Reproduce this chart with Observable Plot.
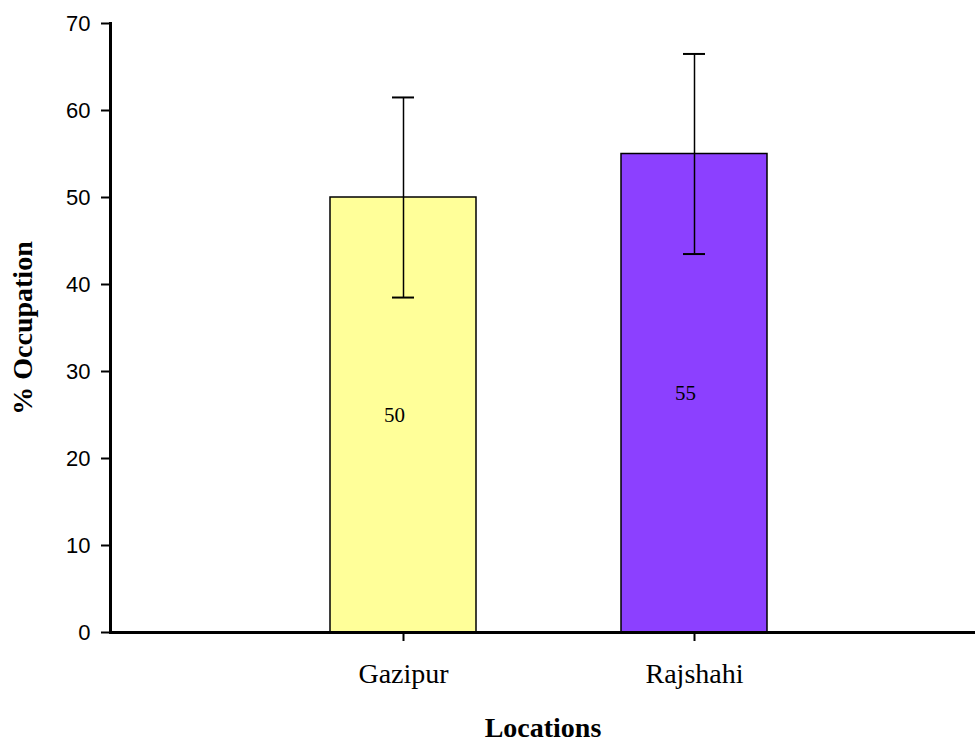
<!DOCTYPE html>
<html>
<head>
<meta charset="utf-8">
<script src="https://cdn.jsdelivr.net/npm/d3@7"></script>
<script src="https://cdn.jsdelivr.net/npm/@observablehq/plot@0.6"></script>
<style>
  html, body { margin: 0; padding: 0; background: #fff; }
</style>
</head>
<body>
<div id="chart"></div>
<script>
const locations = ["Gazipur", "Rajshahi"];
const occupation = [50, 55];
const errors = [11.5, 11.5];
const barColors = ["#ffff99", "#8c40ff"];
const yTicks = [0, 10, 20, 30, 40, 50, 60, 70];

const data = locations.map((loc, i) => ({
  loc,
  value: occupation[i],
  lo: occupation[i] - errors[i],
  hi: occupation[i] + errors[i]
}));

const serif = "'Liberation Serif', 'Times New Roman', serif";
const sans = "'Liberation Sans', Arial, sans-serif";

const chart = Plot.plot({
  width: 975,
  height: 744,
  marginLeft: 110,
  marginRight: 0,
  marginTop: 23,
  marginBottom: 112,
  style: { background: "#fff", color: "#000" },
  x: { domain: locations, range: [110, 986], paddingInner: 0.5, paddingOuter: 0.755 },
  y: { domain: [0, 70] },
  color: { domain: locations, range: barColors },
  marks: [
    Plot.barY(data, { x: "loc", y: "value", fill: "loc", stroke: "#000", strokeWidth: 1.5 }),
    Plot.ruleX(data, { x: "loc", y1: "lo", y2: "hi", stroke: "#000", strokeWidth: 1.5 }),
    Plot.tickY(data, { x: "loc", y: "lo", stroke: "#000", strokeWidth: 2, insetLeft: 62, insetRight: 62 }),
    Plot.tickY(data, { x: "loc", y: "hi", stroke: "#000", strokeWidth: 2, insetLeft: 62, insetRight: 62 }),
    Plot.text(data, { x: "loc", y: d => d.value / 2, text: d => String(d.value), dx: -9, fontSize: 21, fontFamily: serif, fill: "#000" }),
    Plot.axisY({ ticks: yTicks, tickSize: 9, tickPadding: 11, fontSize: 22, fontFamily: sans, strokeWidth: 2,
      label: "% Occupation", labelAnchor: "center", labelArrow: false, labelOffset: 98 }),
    Plot.axisX({ tickSize: 9, tickPadding: 22, fontSize: 28, fontFamily: serif, strokeWidth: 2,
      label: "Locations", labelAnchor: "center", labelArrow: false, labelOffset: 104 }),
    Plot.frame({ anchor: "left", strokeWidth: 3 }),
    Plot.ruleY([0], { stroke: "#000", strokeWidth: 3 })
  ]
});

// Style axis labels (bold) via Plot's own generated text elements
d3.select(chart).selectAll("g[aria-label='y-axis label'] text, g[aria-label='x-axis label'] text")
  .attr("font-weight", "bold").attr("font-size", 28).attr("font-family", serif);

document.getElementById("chart").appendChild(chart);
</script>
</body>
</html>
